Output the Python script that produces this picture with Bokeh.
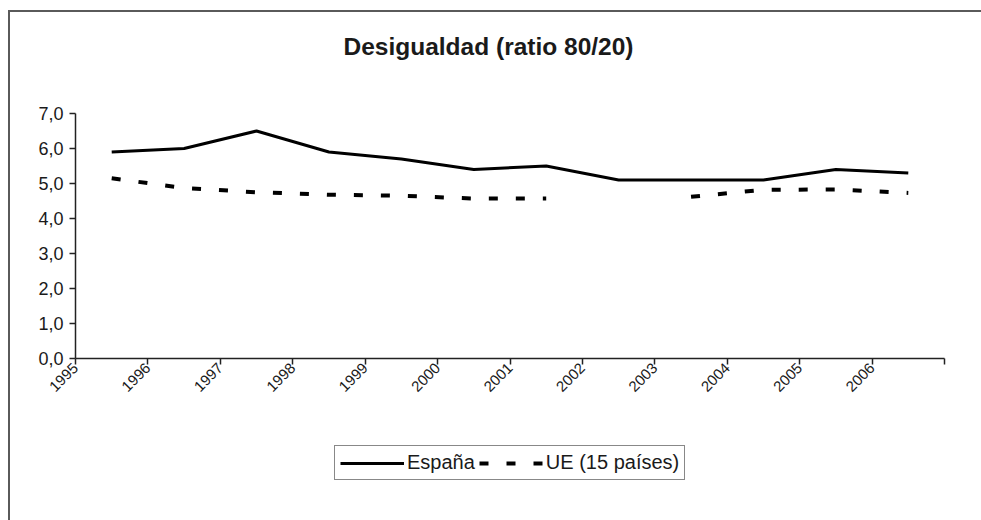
import math
from bokeh.plotting import figure
from bokeh.models import (Range1d, FixedTicker, Legend, LegendItem,
                          ColumnDataSource, Label)
from bokeh.embed import file_html
from bokeh.resources import INLINE

# ---- data ----
years = ["1995", "1996", "1997", "1998", "1999", "2000",
         "2001", "2002", "2003", "2004", "2005", "2006"]
espana = [5.9, 6.0, 6.5, 5.9, 5.7, 5.4, 5.5, 5.1, 5.1, 5.1, 5.4, 5.3]
ue15 = [5.15, 4.87, 4.75, 4.68, 4.65, 4.57, 4.57, float("nan"), 4.62, 4.82, 4.83, 4.73]
y_ticks = [0, 1, 2, 3, 4, 5, 6, 7]
y_tick_labels = ["0,0", "1,0", "2,0", "3,0", "4,0", "5,0", "6,0", "7,0"]
title_text = "Desigualdad (ratio 80/20)"
series_names = ["España", "UE (15 países)"]

FONT = "Liberation Sans"
INK = "#1a1a1a"
AX = "#222222"

# ---- layout geometry (pixels) ----
W, H = 981, 520
AX_LEFT, AX_RIGHT = 75, 944      # x axis extent
Y0_PX, Y7_PX = 358, 113          # pixel rows of 0,0 and 7,0
n = len(years)
ymax = y_ticks[-1]
sx = (AX_RIGHT - AX_LEFT) / n
sy = (Y0_PX - Y7_PX) / ymax

# categories are drawn at the centre of each slot, tick labels on slot edges
xpos = [i + 0.5 for i in range(n)]
src = ColumnDataSource(dict(x=xpos, es=espana, ue=ue15))

# the plotting frame covers the whole canvas; axes sit at fixed locations
p = figure(width=W, height=H, output_backend="svg", toolbar_location=None,
           x_range=Range1d(-AX_LEFT / sx, n + (W - AX_RIGHT) / sx),
           y_range=Range1d(-(H - Y0_PX) / sy, ymax + Y7_PX / sy),
           min_border=0, min_border_left=0, min_border_right=0,
           min_border_top=0, min_border_bottom=0)
p.title.text = ""

p.grid.visible = False
p.outline_line_color = None
p.background_fill_alpha = 0
p.border_fill_alpha = 0
# outer chart frame: only its top and left edges fall inside the window
p.styles = {
    "background-color": "white",
    "background-image": "linear-gradient(#5a5a5a, #5a5a5a), linear-gradient(#5a5a5a, #5a5a5a)",
    "background-position": "8px 10px, 8px 10px",
    "background-size": "2px 100%, 100% 2px",
    "background-repeat": "no-repeat",
}

p.add_layout(Label(x=488, y=H - 46, x_units="screen", y_units="screen",
                   text=title_text, text_align="center",
                   text_baseline="alphabetic", text_font=FONT,
                   text_font_size="24.5px", text_font_style="bold",
                   text_color=INK))

r1 = p.line("x", "es", source=src, line_color="black", line_width=3)
r2 = p.line("x", "ue", source=src, line_color="black", line_width=4,
            line_dash="9 18")

xa = p.xaxis[0]
xa.fixed_location = 0
xa.bounds = (0, n)
xa.ticker = FixedTicker(ticks=list(range(n + 1)))
overrides = {i: years[i] for i in range(n)}
overrides[n] = ""
xa.major_label_overrides = overrides
xa.major_label_orientation = math.pi / 4
xa.minor_tick_line_color = None
xa.major_tick_in = 0
xa.major_tick_out = 6
xa.axis_line_color = AX
xa.axis_line_width = 1.5
xa.major_tick_line_color = AX
xa.major_tick_line_width = 1.5
xa.major_label_text_font = FONT
xa.major_label_text_font_size = "15px"
xa.major_label_text_color = INK
xa.major_label_standoff = 1

ya = p.yaxis[0]
ya.fixed_location = 0
ya.bounds = (0, ymax)
ya.ticker = FixedTicker(ticks=y_ticks)
ya.major_label_overrides = {t: l for t, l in zip(y_ticks, y_tick_labels)}
ya.minor_tick_line_color = None
ya.major_tick_in = 0
ya.major_tick_out = 6
ya.axis_line_color = AX
ya.axis_line_width = 1.5
ya.major_tick_line_color = AX
ya.major_tick_line_width = 1.5
ya.major_label_text_font = FONT
ya.major_label_text_font_size = "18px"
ya.major_label_text_color = INK
ya.major_label_standoff = 6

legend = Legend(items=[LegendItem(label=series_names[0], renderers=[r1]),
                       LegendItem(label=series_names[1], renderers=[r2])],
                orientation="horizontal", location=(334, 40))
legend.label_text_font = FONT
legend.label_text_font_size = "20px"
legend.label_text_color = INK
legend.glyph_width = 64
legend.glyph_height = 22
legend.label_standoff = 3
legend.spacing = 4
legend.padding = 5
legend.margin = 0
legend.border_line_color = "#111111"
legend.border_line_width = 1.5
legend.background_fill_color = "white"
legend.background_fill_alpha = 1
p.add_layout(legend, "center")

open("out.html", "w").write(file_html(p, INLINE))
